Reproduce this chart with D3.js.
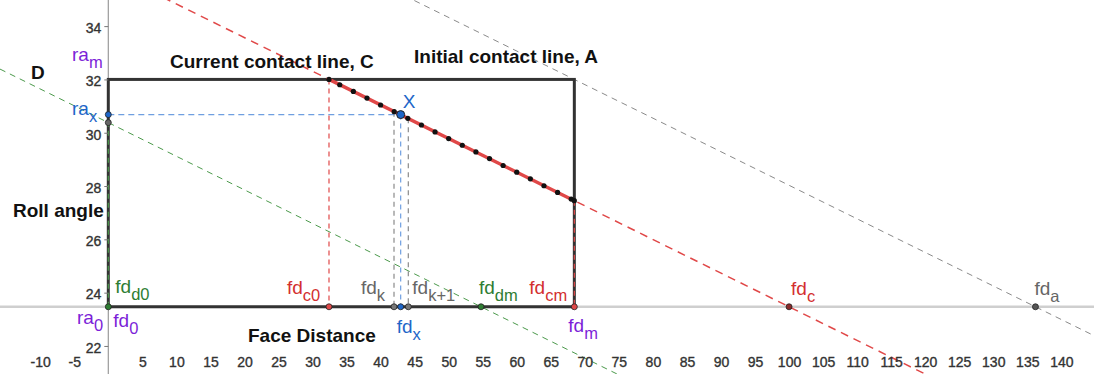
<!DOCTYPE html>
<html><head><meta charset="utf-8">
<script src="https://cdn.jsdelivr.net/npm/d3@7"></script>
<style>
html,body{margin:0;padding:0;background:#fff;}
svg{display:block;font-family:"Liberation Sans",Arial,Helvetica,sans-serif;}
</style></head>
<body>
<svg id="c" width="1094" height="383"></svg>
<script>
// ---------- data ----------
const xTicks = [-10,-5,5,10,15,20,25,30,35,40,45,50,55,60,65,70,75,80,85,90,95,100,105,110,115,120,125,130,135,140];
const yTicks = [22,24,26,28,30,32,34];
const boxX = [0, 68.46];
const boxY = [23.47, 32];
// contact lines, each given by two points
const lineC = [[32.42, 32], [100, 23.47]];
const lineA = [[68.46, 32], [136.2, 23.47]];
const lineD = [[0, 30.38], [54.75, 23.47]];
// discretised points on the current contact line
const dotX = [32.42,34,36,38,40,42,44,46,48,50,52,54,56,58,60,62,64,66,68,68.46];
const dotY = [32.00,31.80,31.55,31.30,31.04,30.79,30.54,30.29,30.03,29.78,29.53,29.28,29.03,28.77,28.52,28.27,28.01,27.76,27.51,27.45];
// points on the face-distance line
const fdNames = ["fd0","fdc0","fdk","fdx","fdk1","fddm","fdcm","fdc","fda"];
const fdX = [0, 32.42, 41.97, 42.95, 44.07, 54.75, 68.46, 100, 136.2];
const pointX = {x: 42.95, y: 30.68};
const raX = 30.68, raD = 30.38;

// ---------- setup ----------
const W = 1094, H = 383, plotBottom = 374;
const svg = d3.select("#c");
const x = d3.scaleLinear().domain([-15.91, 144.8]).range([0, W]);
const y = d3.scaleLinear().domain([20.61, 34.98]).range([H, 0]);

const RED = "#d93a3a", RED_T = "#d32f2f", GREEN = "#2e7d32", GREEN_L = "#4c9a4c",
      BLUE = "#1e66c8", BLUE_L = "#6f9fe0", GRAY = "#666", GRAY_L = "#8a8a8a",
      PURPLE = "#7c1fd8", DARK = "#333";
const fmt = d => String(d);

svg.append("defs").append("clipPath").attr("id","clip")
  .append("rect").attr("x",0).attr("y",0).attr("width",W).attr("height",plotBottom);
const g = svg.append("g").attr("clip-path","url(#clip)");

// axes lines
g.append("line").attr("x1",0).attr("x2",W).attr("y1",y(boxY[0])).attr("y2",y(boxY[0]))
  .attr("stroke","#cfcfcf").attr("stroke-width",2.5);
g.append("line").attr("x1",x(0)).attr("x2",x(0)).attr("y1",0).attr("y2",plotBottom)
  .attr("stroke","#9a9a9a").attr("stroke-width",1.2);

// y axis ticks + labels (d3 axis)
const yAxis = d3.axisLeft(y).tickValues(yTicks).tickSize(4).tickPadding(3).tickFormat(fmt);
const ya = svg.append("g").attr("transform",`translate(${x(0)},0)`).call(yAxis);
ya.select(".domain").remove();
ya.selectAll(".tick line").attr("stroke","#777");
ya.selectAll(".tick text").attr("font-size",14).attr("fill",DARK).attr("stroke",DARK).attr("stroke-width",0.35)
  .attr("font-family","Liberation Sans, Arial, sans-serif").attr("dy","0.45em");

// x labels along bottom edge
const xAxis = d3.axisBottom(x).tickValues(xTicks).tickSize(0).tickPadding(0).tickFormat(fmt);
const xa = svg.append("g").attr("transform",`translate(0,357)`).call(xAxis);
xa.select(".domain").remove();
xa.selectAll(".tick text").attr("font-size",14).attr("fill",DARK).attr("stroke",DARK).attr("stroke-width",0.35)
  .attr("font-family","Liberation Sans, Arial, sans-serif").attr("dy","0.71em");

// infinite lines
function extLine(p, color, width, dash) {
  const m = (p[1][1]-p[0][1])/(p[1][0]-p[0][0]);
  const xa0 = x.domain()[0], xa1 = x.domain()[1];
  g.append("line")
    .attr("x1", x(xa0)).attr("y1", y(p[0][1] + m*(xa0-p[0][0])))
    .attr("x2", x(xa1)).attr("y2", y(p[0][1] + m*(xa1-p[0][0])))
    .attr("stroke", color).attr("stroke-width", width).attr("stroke-dasharray", dash);
}
extLine(lineA, GRAY_L, 1, "6,5");
extLine(lineD, GREEN_L, 1, "6,5");

// box
g.append("rect").attr("x",x(boxX[0])).attr("y",y(boxY[1]))
  .attr("width",x(boxX[1])-x(boxX[0])).attr("height",y(boxY[0])-y(boxY[1]))
  .attr("fill","none").attr("stroke",DARK).attr("stroke-width",3);

// green dashed segment on y axis
g.append("line").attr("x1",x(0)).attr("x2",x(0)).attr("y1",y(boxY[0])).attr("y2",y(raD))
  .attr("stroke",GREEN_L).attr("stroke-width",1.2).attr("stroke-dasharray","5,4");

// red solid segment (current contact) and dashed full line
g.append("line").attr("x1",x(dotX[0])).attr("y1",y(dotY[0]))
  .attr("x2",x(dotX[dotX.length-1])).attr("y2",y(dotY[dotY.length-1]))
  .attr("stroke","#e04848").attr("stroke-width",3.5);
extLine(lineC, "#e04848", 1.5, "8,6");

// vertical red dashed projections
[[dotX[0], dotY[0]], [dotX[dotX.length-1], dotY[dotY.length-1]]].forEach(p => {
  g.append("line").attr("x1",x(p[0])).attr("x2",x(p[0])).attr("y1",y(p[1])).attr("y2",y(boxY[0]))
    .attr("stroke","#e04848").attr("stroke-width",1.2).attr("stroke-dasharray","5,4");
});
// gray dashed for fd_k, fd_k+1
[fdX[2], fdX[4]].forEach(v => {
  const i = dotX.indexOf(Math.round(v));
  const yy = i >= 0 ? dotY[i] : pointX.y;
  g.append("line").attr("x1",x(v)).attr("x2",x(v)).attr("y1",y(yy)).attr("y2",y(boxY[0]))
    .attr("stroke",GRAY_L).attr("stroke-width",1.2).attr("stroke-dasharray","5,4");
});
// blue dashed projections from X
g.append("line").attr("x1",x(pointX.x)).attr("x2",x(pointX.x)).attr("y1",y(pointX.y)).attr("y2",y(boxY[0]))
  .attr("stroke",BLUE_L).attr("stroke-width",1.2).attr("stroke-dasharray","5,4");
g.append("line").attr("x1",x(0)).attr("x2",x(pointX.x)).attr("y1",y(pointX.y)).attr("y2",y(pointX.y))
  .attr("stroke",BLUE_L).attr("stroke-width",1.2).attr("stroke-dasharray","6,4");

// dots along current contact line
g.selectAll("circle.dot").data(dotX).enter().append("circle").attr("class","dot")
  .attr("cx",d=>x(d)).attr("cy",(d,i)=>y(dotY[i])).attr("r",2.6).attr("fill","#111");

// axis points
const fdFill = {fd0:"#2e7d32", fdc0:"#e04848", fdk:"#777", fdx:"#1e66c8", fdk1:"#777",
                fddm:"#2e7d32", fdcm:"#e04848", fdc:"#8a2a2a", fda:"#555"};
g.selectAll("circle.fd").data(fdNames).enter().append("circle").attr("class","fd")
  .attr("cx",(d,i)=>x(fdX[i])).attr("cy",y(boxY[0])).attr("r",3)
  .attr("fill",d=>fdFill[d]).attr("stroke","#222").attr("stroke-width",0.8);
// points on y axis
g.append("circle").attr("cx",x(0)).attr("cy",y(raD)).attr("r",3).attr("fill","#666").attr("stroke","#222").attr("stroke-width",0.8);
g.append("circle").attr("cx",x(0)).attr("cy",y(raX)).attr("r",3).attr("fill",BLUE).attr("stroke","#222").attr("stroke-width",0.8);
// X point
g.append("circle").attr("cx",x(pointX.x)).attr("cy",y(pointX.y)).attr("r",4).attr("fill",BLUE).attr("stroke","#222").attr("stroke-width",1);

// ---------- labels ----------
function lab(px, py, main, sub, color) {
  const t = svg.append("text").attr("x",px).attr("y",py).attr("fill",color)
    .attr("font-size",19).attr("font-family","Liberation Sans, Arial, sans-serif");
  t.append("tspan").text(main);
  if (sub) t.append("tspan").attr("dy",7).attr("font-size",16.5).text(sub);
}
const axY = y(boxY[0]);
lab(72, 61, "ra", "m", PURPLE);
lab(72, 115, "ra", "x", BLUE);
lab(77, 324, "ra", "0", PURPLE);
lab(x(0)+5, 327, "fd", "0", PURPLE);
lab(x(0)+7, axY-14, "fd", "d0", GREEN);
lab(x(fdX[1])-42, axY-13, "fd", "c0", RED_T);
lab(x(fdX[2])-33, axY-13, "fd", "k", GRAY);
lab(x(fdX[4])+4, axY-13, "fd", "k+1", GRAY);
lab(x(fdX[5])-2, axY-13, "fd", "dm", GREEN);
lab(x(fdX[6])-45, axY-13, "fd", "cm", RED_T);
lab(x(fdX[7])+2, axY-12, "fd", "c", RED_T);
lab(x(fdX[8])-1, axY-12, "fd", "a", GRAY);
lab(x(fdX[3])-4, 333, "fd", "x", BLUE);
lab(x(fdX[6])-6, 332, "fd", "m", PURPLE);
lab(x(pointX.x)+2, 108, "X", null, BLUE);

function title(px, py, s) {
  svg.append("text").attr("x",px).attr("y",py).attr("fill","#111").attr("font-weight","bold")
    .attr("font-size",19).attr("font-family","Liberation Sans, Arial, sans-serif").text(s);
}
title(31, 79, "D");
title(170, 68, "Current contact line, C");
title(414, 63, "Initial contact line, A");
title(13, 217, "Roll angle");
title(248, 342, "Face Distance");
</script>
</body></html>
